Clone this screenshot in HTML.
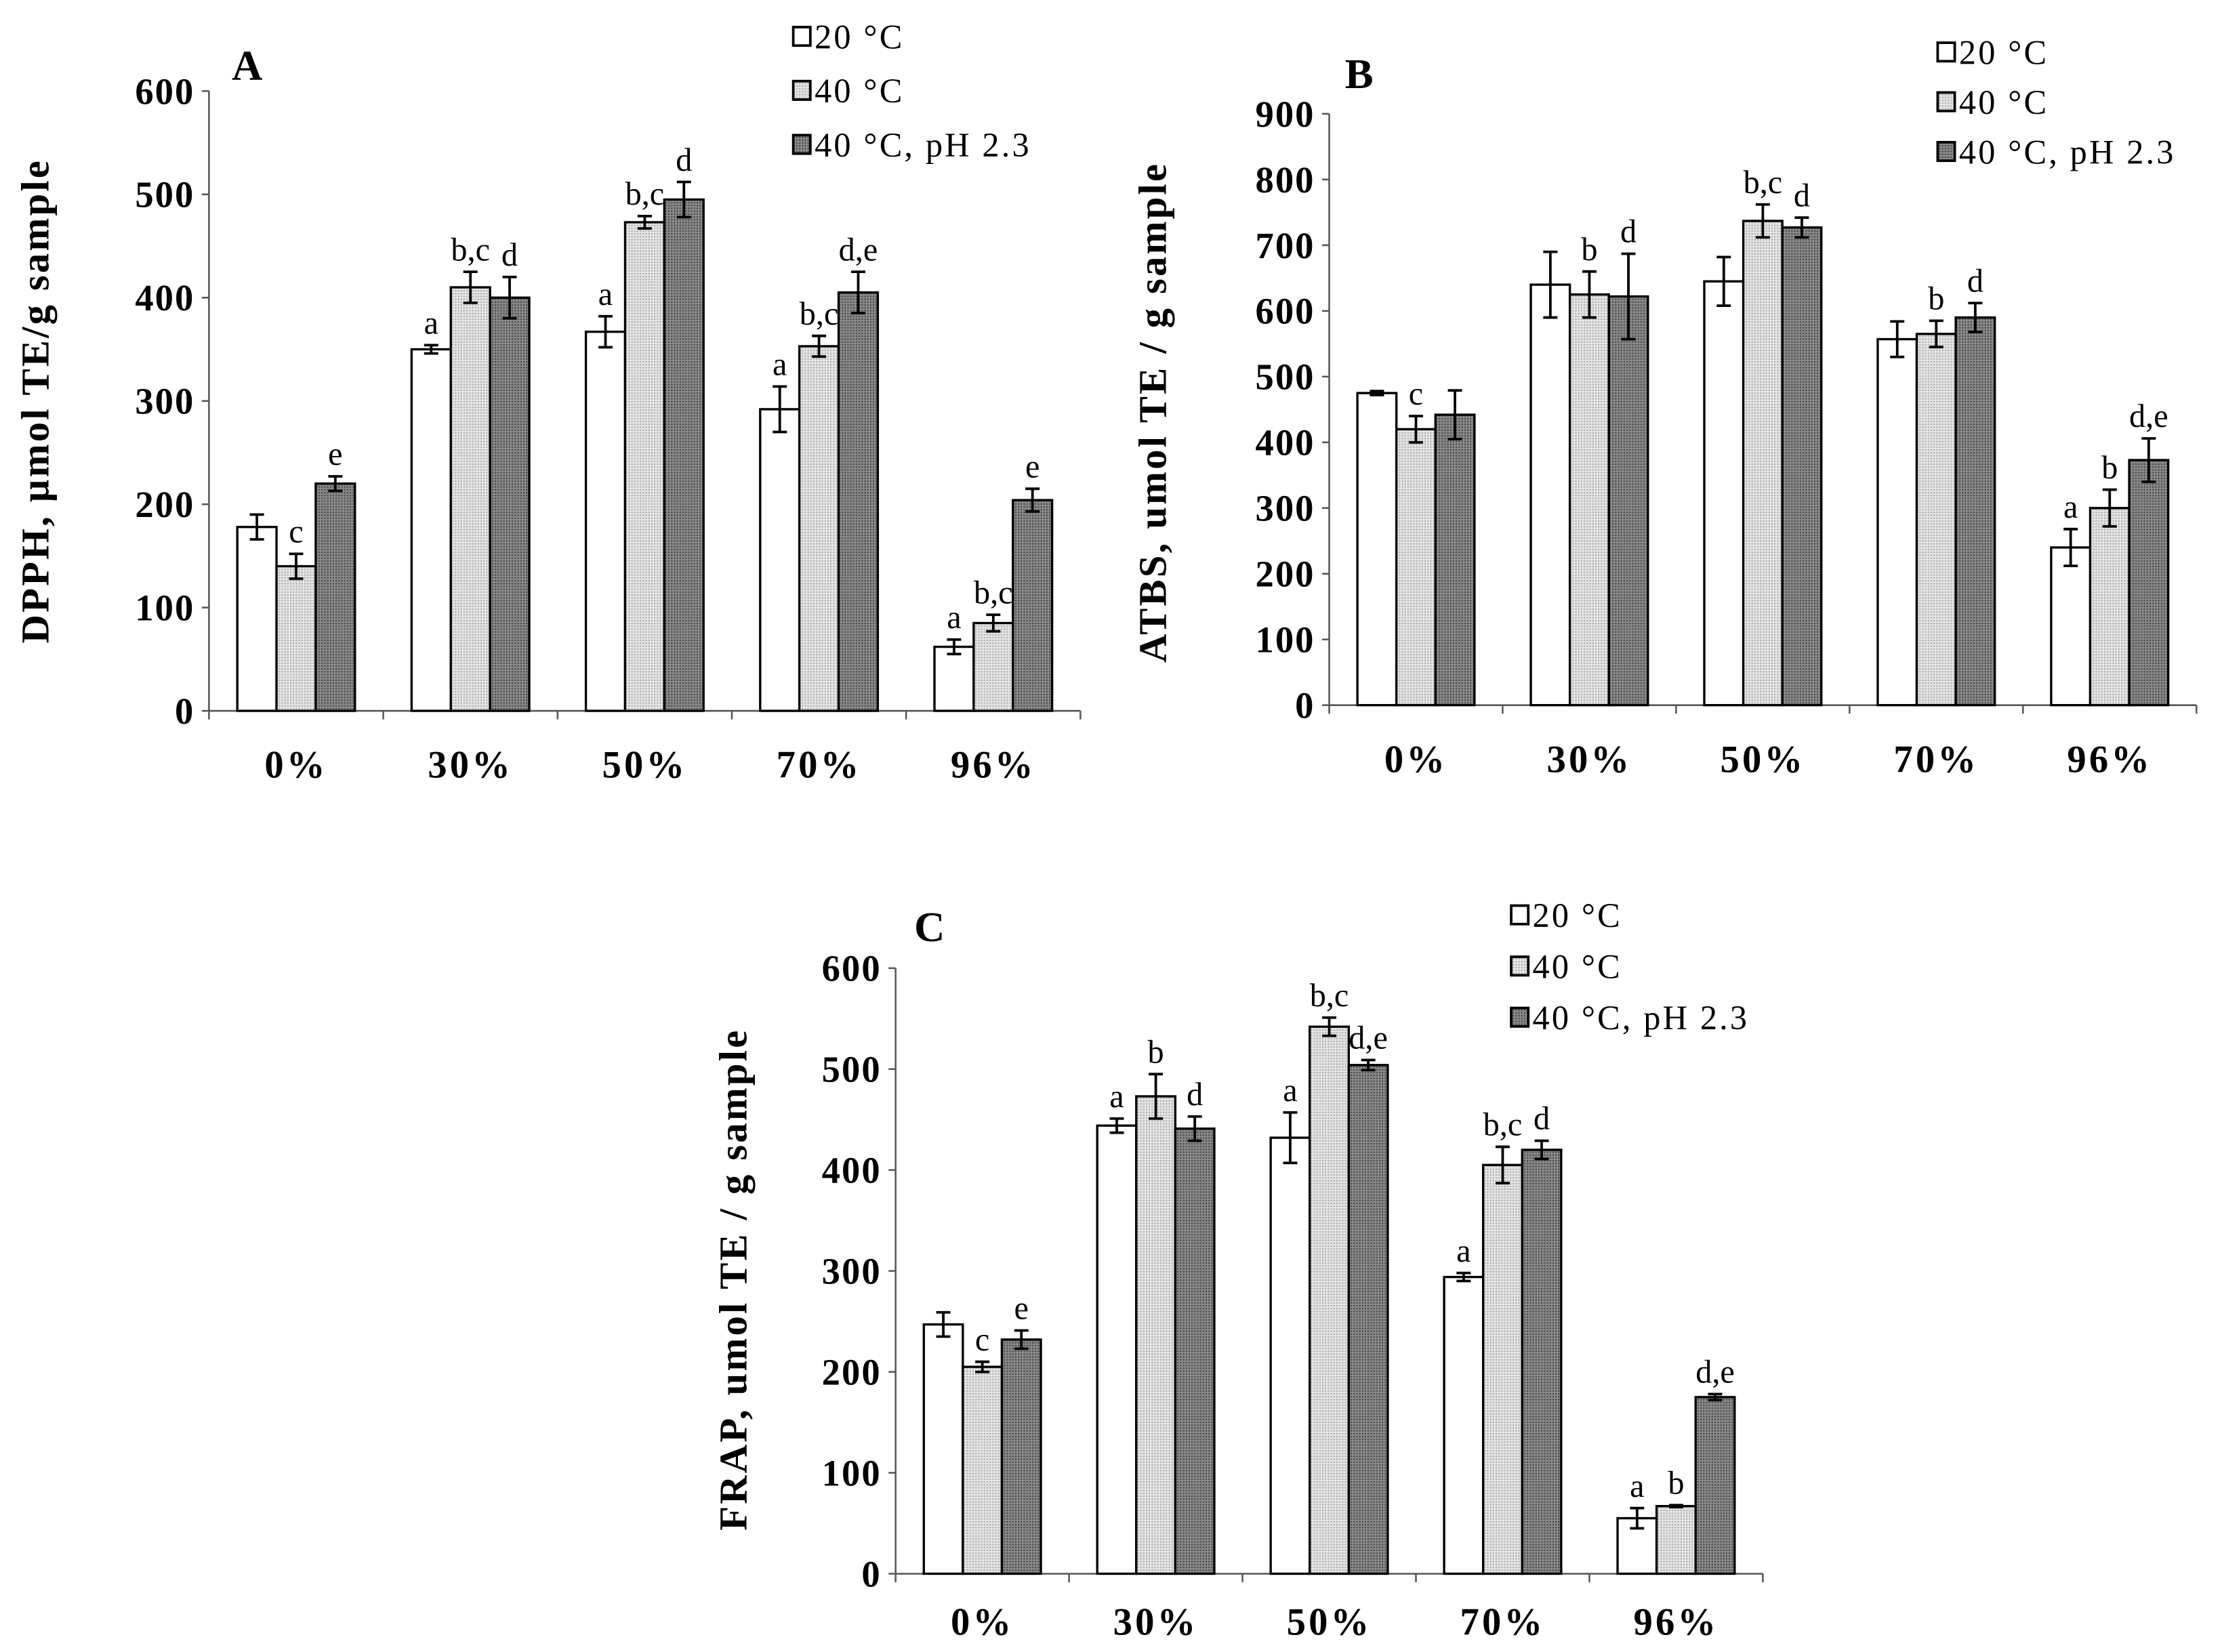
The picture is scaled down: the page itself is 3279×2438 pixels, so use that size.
<!DOCTYPE html>
<html><head><meta charset="utf-8">
<style>
html,body{margin:0;padding:0;background:#fff;}
svg{display:block;}
text{font-family:"Liberation Serif",serif;fill:#000;}
</style></head>
<body>
<svg id="fig" width="3279" height="2438" viewBox="0 0 1563 1162" xmlns="http://www.w3.org/2000/svg">
<defs>
<pattern id="dots" width="2" height="2" patternUnits="userSpaceOnUse"><rect width="2" height="2" fill="#e6e6e6"/><rect width="1" height="1" fill="#a8a8a8"/></pattern>
<pattern id="dark" width="2" height="2" patternUnits="userSpaceOnUse"><rect width="2" height="2" fill="#8a8a8a"/><rect width="1" height="1" fill="#444"/></pattern>
</defs>
</svg>
<script>
const categories = ["0%","30%","50%","70%","96%"];
const seriesNames = ["20 °C","40 °C","40 °C, pH 2.3"];
// Panel A (DPPH)
const aTicks = [0,100,200,300,400,500,600];
const a20 = [178,350,367,292,62];
const a40 = [140,410,473,353,85];
const a40pH = [220,400,495,405,204];
const a20Err = [12,4,15,22,7];
const a40Err = [12,15,6,10,8];
const a40pHErr = [7,20,17,20,11];
const aLbl20 = ["","a","a","a","a"];
const aLbl40 = ["c","b,c","b,c","b,c","b,c"];
const aLbl40pH = ["e","d","d","d,e","e"];
// Panel B (ABTS)
const bTicks = [0,100,200,300,400,500,600,700,800,900];
const b20 = [475,640,645,557,240];
const b40 = [420,625,737,565,300];
const b40pH = [442,622,727,590,373];
const b20Err = [3,50,37,27,28];
const b40Err = [20,35,25,20,28];
const b40pHErr = [37,65,15,22,33];
const bLbl20 = ["","","","","a"];
const bLbl40 = ["c","b","b,c","b","b"];
const bLbl40pH = ["","d","d","d","d,e"];
// Panel C (FRAP)
const cTicks = [0,100,200,300,400,500,600];
const c20 = [247,444,432,294,55];
const c40 = [205,473,542,405,67];
const c40pH = [232,441,504,420,175];
const c20Err = [12,7,25,4,10];
const c40Err = [5,22,9,18,1];
const c40pHErr = [9,12,5,9,3];
const cLbl20 = ["","a","a","a","a"];
const cLbl40 = ["c","b","b,c","b,c","b"];
const cLbl40pH = ["e","d","d,e","d","d,e"];

const NS="http://www.w3.org/2000/svg";
const svg=document.getElementById('fig');
function mk(tag,attrs,parent){const e=document.createElementNS(NS,tag);for(const k in attrs)e.setAttribute(k,attrs[k]);(parent||svg).appendChild(e);return e;}
const fills=["#ffffff","url(#dots)","url(#dark)"];

function drawPanel(p){
  const g=mk('g',{});
  
  
  const ymax=p.ticks[p.ticks.length-1];
  const y=v=>p.y0-(v/ymax)*(p.y0-p.yTop);
  const catW=(p.xEnd-p.x0)/categories.length;
  const bw=catW*0.225, off=(catW-3*bw)/2;
  const ya=mk('line',{x1:p.x0,y1:p.yTop,x2:p.x0,y2:p.y0,stroke:'#555','stroke-width':1.2},g);
  
  
  const xa=mk('line',{x1:p.x0,y1:p.y0,x2:p.xEnd,y2:p.y0,stroke:'#555','stroke-width':1.2},g);
  
  
  p.ticks.forEach(t=>{
    mk('line',{x1:p.x0-5,y1:y(t),x2:p.x0,y2:y(t),stroke:'#555','stroke-width':1.2},g);
    const tl=mk('text',{x:p.x0-10,y:y(t)+9,'text-anchor':'end','font-size':26,'font-weight':'bold','letter-spacing':1},g);
    tl.textContent=t;
    
    
  });
  for(let i=0;i<=categories.length;i++){
    mk('line',{x1:p.x0+i*catW,y1:p.y0,x2:p.x0+i*catW,y2:p.y0+6,stroke:'#555','stroke-width':1.2},g);
  }
  categories.forEach((c,i)=>{
    const cl=mk('text',{x:p.x0+(i+0.5)*catW,y:p.catY,'text-anchor':'middle','font-size':27,'font-weight':'bold','letter-spacing':2},g);
    cl.textContent=c;
    
    
    p.series.forEach((s,k)=>{
      const x=p.x0+i*catW+off+k*bw, v=s[i], e=p.errs[k][i];
      const r=mk('rect',{x:x,y:y(v),width:bw,height:p.y0-y(v),fill:fills[k],stroke:'#000','stroke-width':1.6},g);
      
      
      const cx=x+bw/2;
      const eb=mk('path',{d:`M${cx-5},${y(v+e)}H${cx+5}M${cx},${y(v+e)}V${y(v-e)}M${cx-5},${y(v-e)}H${cx+5}`,stroke:'#000','stroke-width':1.8,fill:'none'},g);
      
      
      const lab=p.labels[k][i];
      if(lab){
        const lt=mk('text',{x:cx,y:y(v+e)-8,'text-anchor':'middle','font-size':23},g);
        lt.textContent=lab;
        
        
      }
    });
  });
  const pl=mk('text',{x:p.letter[0],y:p.letter[1],'font-size':30,'font-weight':'bold'},g);
  pl.textContent=p.letterText;
  
  
  const yt=mk('text',{x:0,y:0,'text-anchor':'middle','font-size':28,'font-weight':'bold','letter-spacing':1.5,transform:`translate(${p.yTitle[0]},${p.yTitle[1]}) rotate(-90)`},g);
  yt.textContent=p.yTitleText;
  
  
  seriesNames.forEach((n,k)=>{
    const ly=p.legend[1]+k*p.legend[2];
    const lb=mk('rect',{x:p.legend[0],y:ly-15,width:12,height:13,fill:fills[k],stroke:'#000','stroke-width':1.8},g);
    
    
    const lt=mk('text',{x:p.legend[0]+15,y:ly,'font-size':24,'letter-spacing':1.5},g);
    lt.textContent=n;
    
    
  });
}
drawPanel({name:'panel-a-dpph',x0:147,xEnd:760,y0:500,yTop:64,ticks:aTicks,catY:547,series:[a20,a40,a40pH],errs:[a20Err,a40Err,a40pHErr],labels:[aLbl20,aLbl40,aLbl40pH],letter:[163,56],letterText:'A',yTitle:[34,282],yTitleText:'DPPH, µmol TE/g sample',legend:[558,34,38]});
drawPanel({name:'panel-b-abts',x0:935,xEnd:1545,y0:496,yTop:80,ticks:bTicks,catY:543,series:[b20,b40,b40pH],errs:[b20Err,b40Err,b40pHErr],labels:[bLbl20,bLbl40,bLbl40pH],letter:[946,62],letterText:'B',yTitle:[820,290],yTitleText:'ATBS, umol TE / g sample',legend:[1363,45,35]});
drawPanel({name:'panel-c-frap',x0:630,xEnd:1240,y0:1107,yTop:681,ticks:cTicks,catY:1150,series:[c20,c40,c40pH],errs:[c20Err,c40Err,c40pHErr],labels:[cLbl20,cLbl40,cLbl40pH],letter:[643,662],letterText:'C',yTitle:[525,900],yTitleText:'FRAP, umol TE / g sample',legend:[1063,652,36]});
</script>
</body></html>
